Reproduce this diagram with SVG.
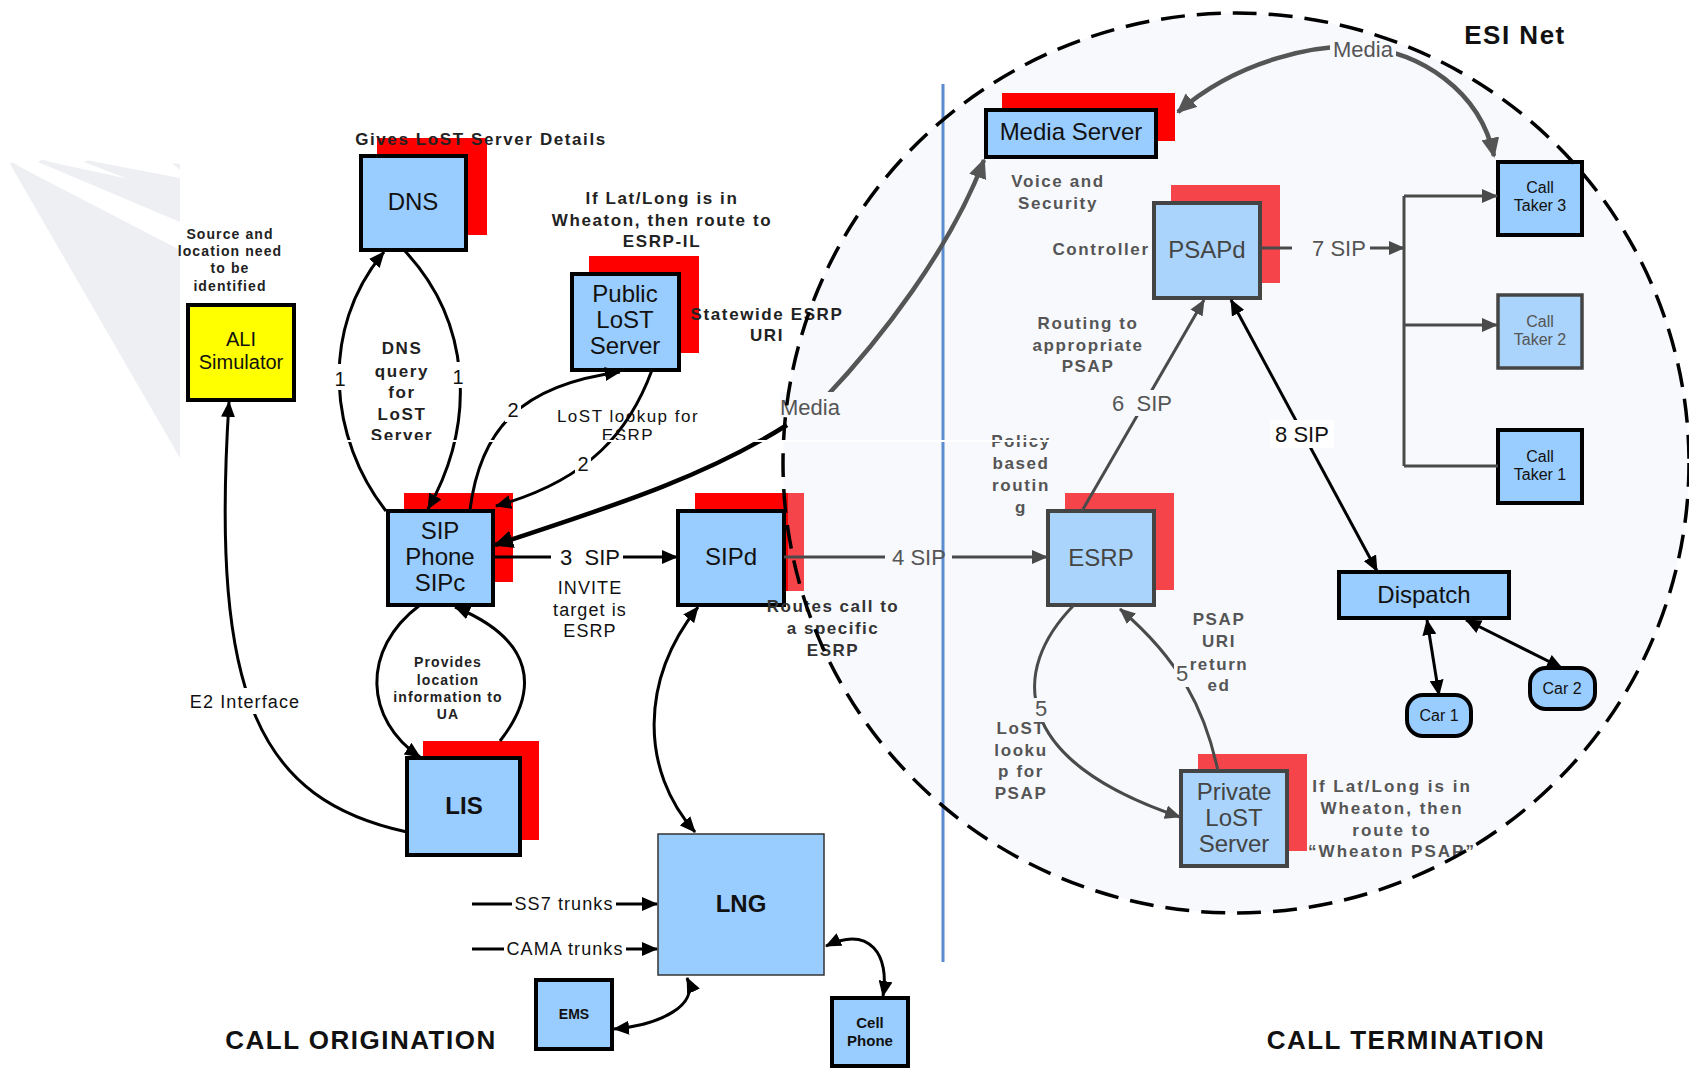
<svg xmlns="http://www.w3.org/2000/svg" width="1689" height="1069" viewBox="0 0 1689 1069">
<defs>
<style>
text{font-family:"Liberation Sans",Arial,sans-serif}
.box{fill:#99ccff;stroke:#000;stroke-width:4}
.boxl{fill:#aad4fb;stroke:#444;stroke-width:4}
.sh{fill:#ff0000}
.shl{fill:#f5454b}
.nl{font-size:24px;text-anchor:middle;fill:#111}
.nlg{font-size:24px;text-anchor:middle;fill:#444}
.sm{font-size:16px;text-anchor:middle;fill:#111}
.bd{font-weight:bold}
.ann{font-size:17px;font-weight:bold;text-anchor:middle;fill:#222;letter-spacing:1.6px}
.anng{font-size:17px;font-weight:bold;text-anchor:middle;fill:#555;letter-spacing:1.6px}
.s14{font-size:14px;letter-spacing:1.1px}
.lbl{font-size:22px;text-anchor:middle;fill:#111}
.lblg{font-size:22px;text-anchor:middle;fill:#555}
.num{font-size:20px;text-anchor:middle;fill:#111}
.nt{font-size:18px;text-anchor:middle;fill:#111;letter-spacing:1.1px}
.big{font-size:26px;font-weight:bold;text-anchor:middle;fill:#111;letter-spacing:1.5px}
.c{stroke:#000;stroke-width:3;fill:none}
.cg{stroke:#4a4a4a;stroke-width:3;fill:none}
.cm{stroke:#000;stroke-width:4.5;fill:none}
.cmg{stroke:#555;stroke-width:4.5;fill:none}
.wbg{fill:#fff}
.ebg{fill:#f7f9fd}
</style>
<marker id="ab" viewBox="0 0 16 14" refX="15" refY="7" markerWidth="16" markerHeight="14" markerUnits="userSpaceOnUse" orient="auto-start-reverse"><path d="M0,0 L16,7 L0,14 z" fill="#000"/></marker>
<marker id="ag" viewBox="0 0 16 14" refX="15" refY="7" markerWidth="16" markerHeight="14" markerUnits="userSpaceOnUse" orient="auto-start-reverse"><path d="M0,0 L16,7 L0,14 z" fill="#4a4a4a"/></marker>
<marker id="amb" viewBox="0 0 20 18" refX="18" refY="9" markerWidth="20" markerHeight="18" markerUnits="userSpaceOnUse" orient="auto-start-reverse"><path d="M0,0 L20,9 L0,18 z" fill="#000"/></marker>
<marker id="amg" viewBox="0 0 20 18" refX="18" refY="9" markerWidth="20" markerHeight="18" markerUnits="userSpaceOnUse" orient="auto-start-reverse"><path d="M0,0 L20,9 L0,18 z" fill="#555"/></marker>
</defs>
<rect width="1689" height="1069" fill="#fff"/>
<g id="watermark" fill="#eeeff2">
<path d="M10 164 Q12 160 18 166 L180 250 L180 458 Z"/>
<path d="M38 162 Q42 158 50 162 L180 190 L180 222 Z"/>
<path d="M84 162 Q88 159 96 162 L180 178 L180 199 Z"/>
<path d="M172 163 L180 164 L180 170 Z"/>
</g>
<g id="esi-net-bg">
<ellipse cx="1236" cy="463" rx="453" ry="450" fill="#f7f9fd"/>
<line x1="943" y1="84" x2="943" y2="962" stroke="#5b8bd0" stroke-width="3"/>
</g>

<g id="nodes">
<g id="dns"><rect class="sh" x="377" y="138" width="110" height="97"/><rect class="box" x="361" y="156" width="105" height="94"/><text class="nl" x="413" y="210" font-size="23">DNS</text></g>
<g id="ali"><rect x="188" y="305" width="106" height="95" fill="#ffff00" stroke="#000" stroke-width="4"/><text class="nl" x="241" y="346" style="font-size:20px">ALI</text><text class="nl" x="241" y="369" style="font-size:20px">Simulator</text></g>
<g id="public-lost"><rect class="sh" x="589" y="256" width="110" height="97"/><rect class="box" x="572" y="274" width="107" height="96"/><text class="nl" x="625" y="302">Public</text><text class="nl" x="625" y="328">LoST</text><text class="nl" x="625" y="354">Server</text></g>
<g id="sip-phone"><rect class="sh" x="404" y="493" width="109" height="89"/><rect class="box" x="388" y="511" width="105" height="94"/><text class="nl" x="440" y="539">SIP</text><text class="nl" x="440" y="565">Phone</text><text class="nl" x="440" y="591">SIPc</text></g>
<g id="sipd"><rect class="sh" x="695" y="493" width="109" height="98"/><rect class="shl" x="788" y="493" width="16" height="98"/><rect class="box" x="678" y="511" width="106" height="94"/><text class="nl" x="731" y="565">SIPd</text></g>
<g id="lis"><rect class="sh" x="423" y="741" width="116" height="99"/><rect class="box" x="407" y="758" width="113" height="97"/><text class="nl bd" x="464" y="814">LIS</text></g>
<g id="lng"><rect x="658" y="834" width="166" height="141" fill="#99ccff" stroke="#333" stroke-width="1.5"/><text class="nl bd" x="741" y="912">LNG</text></g>
<g id="ems"><rect class="box" x="536" y="980" width="76" height="69"/><text class="sm bd" x="574" y="1019" style="font-size:14px">EMS</text></g>
<g id="cell-phone"><rect class="box" x="832" y="998" width="76" height="68"/><text class="sm bd" x="870" y="1028" style="font-size:15px">Cell</text><text class="sm bd" x="870" y="1046" style="font-size:15px">Phone</text></g>
<g id="media-server"><rect class="sh" x="1002" y="93" width="173" height="48"/><rect class="box" x="986" y="110" width="170" height="47"/><text class="nl" x="1071" y="140">Media Server</text></g>
<g id="psapd"><rect class="shl" x="1171" y="185" width="109" height="98"/><rect class="boxl" x="1154" y="203" width="106" height="95"/><text class="nlg" x="1207" y="258">PSAPd</text></g>
<g id="call-taker-3"><rect class="box" x="1498" y="162" width="84" height="73"/><text class="sm" x="1540" y="193">Call</text><text class="sm" x="1540" y="211">Taker 3</text></g>
<g id="call-taker-2"><rect class="boxl" x="1498" y="295" width="84" height="73" style="stroke-width:3.5"/><text class="sm" x="1540" y="327" style="fill:#555">Call</text><text class="sm" x="1540" y="345" style="fill:#555">Taker 2</text></g>
<g id="call-taker-1"><rect class="box" x="1498" y="430" width="84" height="73"/><text class="sm" x="1540" y="462">Call</text><text class="sm" x="1540" y="480">Taker 1</text></g>
<g id="dispatch"><rect class="box" x="1339" y="572" width="170" height="46"/><text class="nl" x="1424" y="603">Dispatch</text></g>
<g id="car-1"><rect class="box" x="1407" y="695" width="64" height="41" rx="16"/><text class="sm" x="1439" y="721">Car 1</text></g>
<g id="car-2"><rect class="box" x="1530" y="668" width="65" height="41" rx="16"/><text class="sm" x="1562" y="694">Car 2</text></g>
<g id="esrp"><rect class="shl" x="1065" y="493" width="109" height="97"/><rect class="boxl" x="1048" y="511" width="106" height="94"/><text class="nlg" x="1101" y="566">ESRP</text></g>
<g id="private-lost"><rect class="shl" x="1198" y="754" width="109" height="97"/><rect class="boxl" x="1181" y="771" width="106" height="95"/><text class="nlg" x="1234" y="800">Private</text><text class="nlg" x="1234" y="826">LoST</text><text class="nlg" x="1234" y="852">Server</text></g>
</g>

<g id="connectors">
<path class="c" d="M386 511 C330 440,318 330,384 252" marker-end="url(#ab)"/>
<path class="c" d="M404 250 C470 320,478 420,428 509" marker-end="url(#ab)"/>
<path class="c" d="M470 510 C480 430,520 385,620 372" marker-end="url(#ab)"/>
<path class="c" d="M652 370 C630 430,590 480,496 506" marker-end="url(#ab)"/>
<path class="cm" d="M787 425 C700 480,600 510,495 545" marker-end="url(#amb)"/>
<path class="cmg" d="M824 399 C880 340,950 250,984 160" marker-end="url(#amg)"/>
<path class="c" d="M493 557 H551"/>
<path class="c" d="M623 557 H677" marker-end="url(#ab)"/>
<path class="cg" d="M784 557 H885"/>
<path class="cg" d="M952 557 H1047" marker-end="url(#ag)"/>
<path class="cg" d="M1082 511 L1204 300" marker-end="url(#ag)"/>
<path class="cg" d="M1260 248 H1292"/>
<path class="cg" d="M1370 248 H1404" marker-end="url(#ag)"/>
<path class="cg" d="M1404 196 V466"/>
<path class="cg" d="M1404 196 H1497" marker-end="url(#ag)"/>
<path class="cg" d="M1404 325 H1497" marker-end="url(#ag)"/>
<path class="cg" d="M1404 466 H1498"/>
<path class="c" d="M1231 300 L1377 571" marker-start="url(#ab)" marker-end="url(#ab)"/>
<path class="c" d="M1427 620 L1439 695" marker-start="url(#ab)" marker-end="url(#ab)"/>
<path class="c" d="M1466 620 L1562 668" marker-start="url(#ab)" marker-end="url(#ab)"/>
<path class="cg" d="M1074 605 C1010 670,1010 760,1180 817" marker-end="url(#ag)"/>
<path class="cg" d="M1218 771 C1205 710,1180 660,1120 609" marker-end="url(#ag)"/>
<path class="cmg" d="M1178 112 C1240 58,1320 44,1362 47 C1420 52,1480 90,1494 156" marker-start="url(#amg)" marker-end="url(#amg)"/>
<path class="c" d="M407 832 C260 800,210 700,229 402" marker-end="url(#ab)"/>
<path class="c" d="M420 605 C360 650,365 720,420 757" marker-end="url(#ab)"/>
<path class="c" d="M500 741 C540 690,535 640,455 607" marker-end="url(#ab)"/>
<path class="c" d="M698 607 C640 680,640 770,695 832" marker-start="url(#ab)" marker-end="url(#ab)"/>
<path class="c" d="M614 1029 C660 1025,700 1005,687 978" marker-start="url(#ab)" marker-end="url(#ab)"/>
<path class="c" d="M826 946 C870 925,890 955,883 996" marker-start="url(#ab)" marker-end="url(#ab)"/>
<path class="c" d="M472 904 H512"/>
<path class="c" d="M616 904 H657" marker-end="url(#ab)"/>
<path class="c" d="M472 949 H504"/>
<path class="c" d="M626 949 H657" marker-end="url(#ab)"/>
</g>

<g id="labels">
<rect class="wbg" x="332" y="364" width="16" height="26"/>
<text class="num" x="340" y="386">1</text>
<rect class="wbg" x="450" y="362" width="16" height="26"/>
<text class="num" x="458" y="384">1</text>
<rect class="wbg" x="505" y="396" width="16" height="26"/>
<text class="num" x="513" y="417">2</text>
<rect class="wbg" x="575" y="450" width="16" height="26"/>
<text class="num" x="583" y="471">2</text>
<rect class="ebg" x="780" y="392" width="58" height="26"/>
<text class="lblg" x="810" y="415">Media</text>
<rect class="ebg" x="1330" y="36" width="66" height="26"/>
<text class="lblg" x="1363" y="57">Media</text>
<rect class="wbg" x="218" y="688" width="58" height="26"/>
<text class="nt" x="245" y="708">E2 Interface</text>
<text class="lbl" x="590" y="565">3&#160; SIP</text>
<text class="lblg" x="919" y="565">4 SIP</text>
<rect class="ebg" x="1108" y="390" width="70" height="26"/>
<text class="lblg" x="1142" y="411">6&#160; SIP</text>
<text class="lblg" x="1339" y="256">7 SIP</text>
<rect class="wbg" x="1270" y="420" width="64" height="28"/>
<text class="lbl" x="1302" y="442">8 SIP</text>
<rect class="ebg" x="1034" y="698" width="16" height="24"/>
<text class="lblg" x="1041" y="716">5</text>
<rect class="ebg" x="1174" y="661" width="16" height="26"/>
<text class="lblg" x="1182" y="681">5</text>
<text class="nt" x="564" y="910">SS7 trunks</text>
<text class="nt" x="565" y="955">CAMA trunks</text>
<text class="nt" x="590" y="594">INVITE</text>
<text class="nt" x="590" y="616">target is</text>
<text class="nt" x="590" y="637">ESRP</text>
<text class="nt" x="628" y="422" style="font-size:17px;letter-spacing:1.5px">LoST lookup for</text>
<text class="nt" x="628" y="441" style="font-size:17px;letter-spacing:1.5px">ESRP</text>
<text class="ann" x="481" y="145">Gives LoST Server Details</text>
<text class="ann s14" x="230" y="239">Source and</text>
<text class="ann s14" x="230" y="256">location need</text>
<text class="ann s14" x="230" y="273">to be</text>
<text class="ann s14" x="230" y="291">identified</text>
<text class="ann" x="402" y="354">DNS</text>
<text class="ann" x="402" y="377">query</text>
<text class="ann" x="402" y="398">for</text>
<text class="ann" x="402" y="420">LoST</text>
<text class="ann" x="402" y="441">Server</text>
<text class="ann" x="662" y="204">If Lat/Long is in</text>
<text class="ann" x="662" y="226">Wheaton, then route to</text>
<text class="ann" x="662" y="247">ESRP-IL</text>
<text class="ann" x="767" y="320">Statewide ESRP</text>
<text class="ann" x="767" y="341">URI</text>
<text class="ann s14" x="448" y="667">Provides</text>
<text class="ann s14" x="448" y="685">location</text>
<text class="ann s14" x="448" y="702">information to</text>
<text class="ann s14" x="448" y="719">UA</text>
<text class="ann" x="833" y="612" style="fill:#333;letter-spacing:1.5px">Routes call to</text>
<text class="ann" x="833" y="634" style="fill:#333;letter-spacing:1.5px">a specific</text>
<text class="ann" x="833" y="656" style="fill:#333;letter-spacing:1.5px">ESRP</text>
<text class="anng" x="1058" y="187">Voice and</text>
<text class="anng" x="1058" y="209">Security</text>
<text class="anng" x="1101" y="255">Controller</text>
<text class="anng" x="1088" y="329">Routing to</text>
<text class="anng" x="1088" y="351">appropriate</text>
<text class="anng" x="1088" y="372">PSAP</text>
<text class="anng" x="1021" y="447">Policy</text>
<text class="anng" x="1021" y="469">based</text>
<text class="anng" x="1021" y="491">routin</text>
<text class="anng" x="1021" y="513">g</text>
<text class="anng" x="1219" y="625">PSAP</text>
<text class="anng" x="1219" y="647">URI</text>
<text class="anng" x="1219" y="670">return</text>
<text class="anng" x="1219" y="691">ed</text>
<text class="anng" x="1021" y="734">LoST</text>
<text class="anng" x="1021" y="756">looku</text>
<text class="anng" x="1021" y="777">p for</text>
<text class="anng" x="1021" y="799">PSAP</text>
<text class="anng" x="1392" y="792" style="letter-spacing:2px">If Lat/Long is in</text>
<text class="anng" x="1392" y="814" style="letter-spacing:2px">Wheaton, then</text>
<text class="anng" x="1392" y="836" style="letter-spacing:2px">route to</text>
<text class="anng" x="1392" y="857" style="letter-spacing:2px">“Wheaton PSAP”</text>
<text class="big" x="1515" y="44">ESI Net</text>
<text class="big" x="361" y="1049">CALL ORIGINATION</text>
<text class="big" x="1406" y="1049">CALL TERMINATION</text>
</g>

<g id="esi-net-border">
<ellipse cx="1236" cy="463" rx="453" ry="450" fill="none" stroke="#000" stroke-width="3.5" stroke-dasharray="24 12"/>
</g>
<rect x="334" y="440" width="716" height="2" fill="#fff"/>
</svg>
